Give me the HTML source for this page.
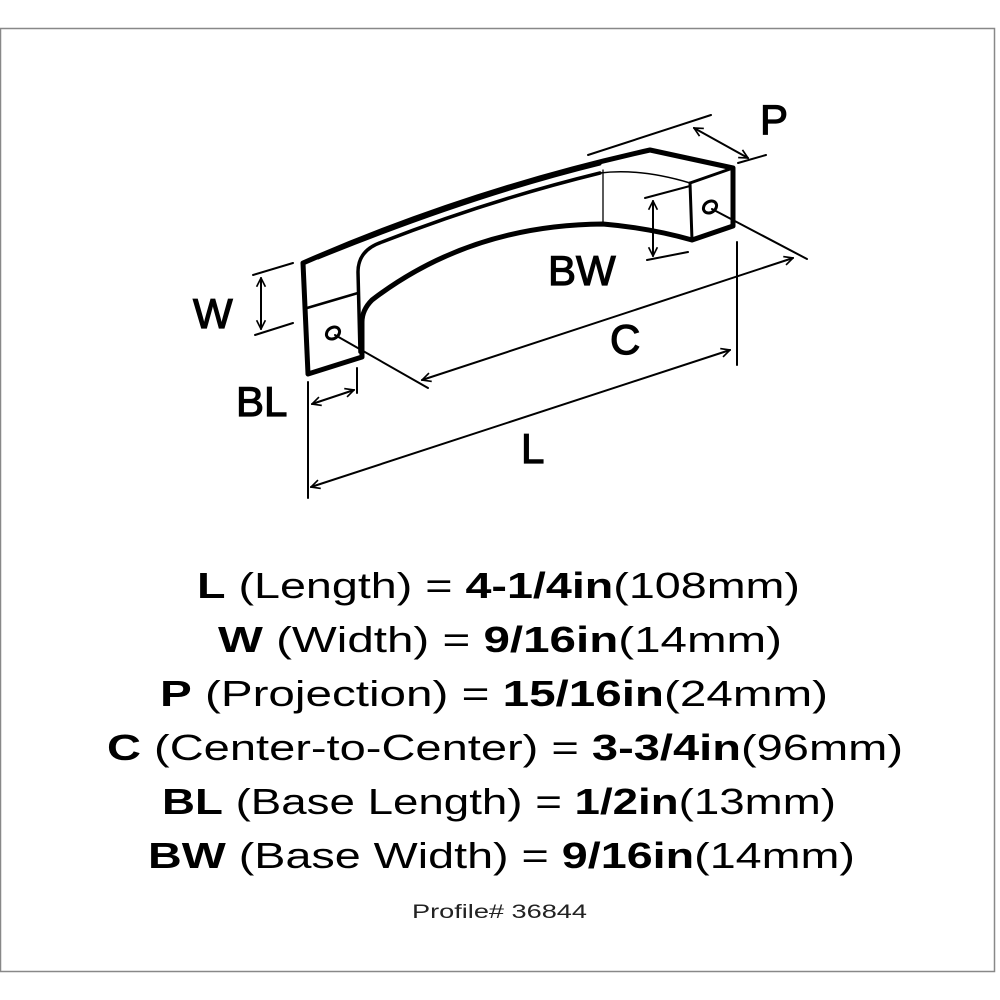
<!DOCTYPE html>
<html><head><meta charset="utf-8"><style>
html,body{margin:0;padding:0;background:#fff;}
svg{display:block;}
</style></head><body>
<svg width="1000" height="1000" viewBox="0 0 1000 1000" xmlns="http://www.w3.org/2000/svg">
<rect x="0.5" y="28.5" width="994" height="943" fill="#fff" stroke="#888" stroke-width="1.5"/>
<defs>
<marker id="a" viewBox="0 0 10 10" refX="9" refY="5" markerWidth="11" markerHeight="11" orient="auto-start-reverse" markerUnits="userSpaceOnUse">
<path d="M1,1 L9,5 L1,9" fill="none" stroke="#000" stroke-width="1.5"/>
</marker>
</defs>
<g fill="none" stroke="#000" stroke-linejoin="round" stroke-linecap="round">
<path d="M308,374 L303,263 Q470,190 650,150 L733,168 L733,226 L692,240 Q650,228 603,224 Q470,225 372,300 Q362,310 362,322 L362,357 Z" stroke-width="5"/>
<path d="M318,258 Q470,196 600,164" stroke-width="3"/>
<path d="M360,352 L358,272 Q358,250 382,242 Q490,200 600,173" stroke-width="3.5"/>
<path d="M600,173 Q640,168 690,183" stroke-width="1.5"/>
<path d="M690,183 L733,168" stroke-width="3"/>
<path d="M690,183 L692,240" stroke-width="3"/>
<path d="M603,170 L603,223" stroke-width="1.3"/>
<path d="M307,308 L358,293" stroke-width="2.5"/>
<ellipse cx="333" cy="333" rx="7" ry="5.5" transform="rotate(-35 333 333)" stroke-width="3"/>
<ellipse cx="710" cy="207" rx="7" ry="5.5" transform="rotate(-35 710 207)" stroke-width="3"/>
<path d="M335,335 L428,388" stroke-width="2"/>
<path d="M712,209 L807,259" stroke-width="2"/>
<path d="M588,155 L711,115" stroke-width="2"/>
<path d="M738,163 L766,155" stroke-width="2"/>
<path d="M694,128 L748,158" stroke-width="2" marker-start="url(#a)" marker-end="url(#a)"/>
<path d="M645,198 L690,186" stroke-width="2"/>
<path d="M647,260 L688,252" stroke-width="2"/>
<path d="M653,201 L653,256" stroke-width="2" marker-start="url(#a)" marker-end="url(#a)"/>
<path d="M253,275 L293,263" stroke-width="2"/>
<path d="M255,335 L293,323" stroke-width="2"/>
<path d="M261,278 L261,329" stroke-width="2" marker-start="url(#a)" marker-end="url(#a)"/>
<path d="M737,242 L737,365" stroke-width="2"/>
<path d="M308,382 L308,498" stroke-width="2"/>
<path d="M357,368 L357,393" stroke-width="2"/>
<path d="M312,404 L354,390" stroke-width="2" marker-start="url(#a)" marker-end="url(#a)"/>
<path d="M422,380 L793,258" stroke-width="2" marker-start="url(#a)" marker-end="url(#a)"/>
<path d="M311,487 L730,350" stroke-width="2" marker-start="url(#a)" marker-end="url(#a)"/>
</g>
<g font-family="Liberation Sans, sans-serif" font-size="42" fill="#000" stroke="#000" stroke-width="1.2">
<text x="760" y="134">P</text>
<text x="548" y="285">BW</text>
<text x="193" y="328">W</text>
<text x="610" y="354">C</text>
<text x="236" y="416">BL</text>
<text x="521" y="463">L</text>
</g>
<g font-family="Liberation Sans, sans-serif" font-size="36" fill="#000">
<text x="197" y="598" textLength="603" lengthAdjust="spacingAndGlyphs"><tspan font-weight="bold">L</tspan> (Length) = <tspan font-weight="bold">4-1/4in</tspan>(108mm)</text>
<text x="218" y="652" textLength="564" lengthAdjust="spacingAndGlyphs"><tspan font-weight="bold">W</tspan> (Width) = <tspan font-weight="bold">9/16in</tspan>(14mm)</text>
<text x="160" y="706" textLength="668" lengthAdjust="spacingAndGlyphs"><tspan font-weight="bold">P</tspan> (Projection) = <tspan font-weight="bold">15/16in</tspan>(24mm)</text>
<text x="107" y="760" textLength="796" lengthAdjust="spacingAndGlyphs"><tspan font-weight="bold">C</tspan> (Center-to-Center) = <tspan font-weight="bold">3-3/4in</tspan>(96mm)</text>
<text x="162" y="814" textLength="674" lengthAdjust="spacingAndGlyphs"><tspan font-weight="bold">BL</tspan> (Base Length) = <tspan font-weight="bold">1/2in</tspan>(13mm)</text>
<text x="148" y="868" textLength="707" lengthAdjust="spacingAndGlyphs"><tspan font-weight="bold">BW</tspan> (Base Width) = <tspan font-weight="bold">9/16in</tspan>(14mm)</text>
<text x="412" y="918" font-size="19" textLength="175" lengthAdjust="spacingAndGlyphs" fill="#222">Profile# 36844</text>
</g>
</svg>
</body></html>
